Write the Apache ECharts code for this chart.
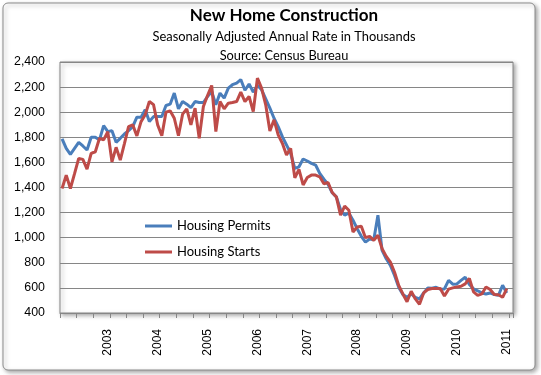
<!DOCTYPE html>
<html>
<head>
<meta charset="utf-8">
<script src="https://cdn.jsdelivr.net/npm/echarts@6/dist/echarts.min.js"></script>
<style>
html,body{margin:0;padding:0;background:#fff;}
#c{width:541px;height:375px;}
</style>
</head>
<body>
<div id="c"></div>
<script>
// Monthly categories: Feb 2002 .. Feb 2011 (last slot empty)
const startYear = 2002, startMonth = 2, monthCount = 109;
const categories = [];
for (let k = 0; k < monthCount; k++) {
  const m = (startMonth - 1 + k) % 12 + 1;
  const y = startYear + Math.floor((startMonth - 1 + k) / 12);
  categories.push(y + '-' + (m < 10 ? '0' + m : '' + m));
}

const yTicks = [400, 600, 800, 1000, 1200, 1400, 1600, 1800, 2000, 2200, 2400];

const housingPermits = [
  1787, 1712, 1664, 1712, 1760, 1731, 1699, 1800, 1800, 1779, 1893,
  1845, 1853, 1760, 1792, 1827, 1853, 1885, 1960, 1960, 2019, 1925, 1965,
  1965, 1965, 2053, 2064, 2152, 2027, 2085, 2064, 2037, 2085, 2077, 2077,
  2125, 2165, 2059, 2152, 2112, 2192, 2219, 2232, 2260, 2175, 2225, 2160,
  2215, 2180, 2107, 2032, 1952, 1885, 1805, 1739, 1672, 1552, 1565, 1627,
  1611, 1592, 1579, 1512, 1467, 1425, 1358, 1325, 1224, 1179, 1197, 1139,
  1072, 1011, 965, 989, 984, 1179, 899, 832, 779, 699, 605, 547,
  525, 552, 525, 512, 560, 600, 598, 605, 590, 592, 660, 630,
  632, 660, 685, 627, 592, 577, 560, 552, 560, 547, 541, 621,
  560, null
];

const housingStarts = [
  1392, 1499, 1392, 1510, 1632, 1624, 1547, 1672, 1685, 1792, 1779,
  1845, 1605, 1720, 1619, 1750, 1885, 1899, 1811, 1925, 1979, 2085, 2060,
  1899, 1813, 2000, 2011, 1952, 1813, 1984, 2027, 1899, 2032, 1792, 2045,
  2133, 2213, 1845, 2085, 2027, 2072, 2077, 2085, 2160, 2085, 2125, 2005,
  2272, 2192, 2059, 1851, 1939, 1819, 1752, 1659, 1712, 1477, 1545, 1420,
  1480, 1499, 1499, 1485, 1430, 1440, 1360, 1325, 1179, 1251, 1219, 1045,
  1085, 1091, 1000, 1011, 979, 1019, 912, 851, 805, 725, 619, 552,
  490, 573, 512, 470, 560, 587, 595, 595, 595, 535, 590, 600,
  608, 613, 632, 675, 568, 541, 552, 608, 587, 547, 545, 525,
  595, null
];

const chart = echarts.init(document.getElementById('c'), null, {renderer: 'canvas'});
const txtFont = 'Lato, "Open Sans", sans-serif';
chart.setOption({
  animation: false,
  backgroundColor: '#ffffff',
  graphic: [{
    type: 'rect',
    z: -10,
    silent: true,
    shape: {x: 3, y: 3, width: 532, height: 367, r: 5},
    style: {fill: '#ffffff', stroke: '#8c8c8c', lineWidth: 1,
            shadowBlur: 4, shadowOffsetX: 2, shadowOffsetY: 2, shadowColor: 'rgba(0,0,0,0.35)'}
  }],
  title: [
    {text: 'New Home Construction', left: 284, top: 5.5, textAlign: 'center', padding: 0,
     textStyle: {fontFamily: txtFont, fontWeight: 'bold', fontSize: 17, lineHeight: 21, color: '#000'}},
    {text: 'Seasonally Adjusted Annual Rate in Thousands', left: 284, top: 28.4, textAlign: 'center', padding: 0,
     textStyle: {fontFamily: txtFont, fontWeight: 'normal', fontSize: 12.9, lineHeight: 16, color: '#000'}},
    {text: 'Source: Census Bureau', left: 284, top: 47.5, textAlign: 'center', padding: 0,
     textStyle: {fontFamily: txtFont, fontWeight: 'normal', fontSize: 12.8, lineHeight: 16, color: '#000'}}
  ],
  legend: {
    orient: 'vertical',
    left: 145,
    top: 218,
    padding: 0,
    itemGap: 10,
    icon: 'rect',
    itemWidth: 27,
    itemHeight: 3,
    textStyle: {fontFamily: txtFont, fontSize: 13, color: '#000', lineHeight: 16},
    data: ['Housing Permits', 'Housing Starts']
  },
  grid: {
    left: 60, top: 62, right: 28, bottom: 62,
    show: true, backgroundColor: '#ffffff', borderColor: '#868686', borderWidth: 1,
    shadowBlur: 4, shadowOffsetX: 2, shadowOffsetY: 2, shadowColor: 'rgba(0,0,0,0.35)',
    containLabel: false
  },
  xAxis: {
    type: 'category',
    data: categories,
    boundaryGap: true,
    axisLine: {show: true, lineStyle: {color: '#868686', width: 1}},
    axisTick: {show: true, length: 5, interval: function (i) { return i % 4 === 0; },
               lineStyle: {color: '#868686'}},
    axisLabel: {
      rotate: 90,
      margin: 16,
      interval: function (i, v) { return v.slice(5) === '01'; },
      formatter: function (v) { return v.slice(0, 4); },
      fontFamily: '"Liberation Sans", Arial, sans-serif',
      fontSize: 12,
      color: '#000'
    },
    splitLine: {show: false}
  },
  yAxis: {
    type: 'value',
    min: yTicks[0],
    max: yTicks[yTicks.length - 1],
    interval: 200,
    axisLine: {show: false},
    axisTick: {show: false},
    axisLabel: {
      margin: 15,
      fontFamily: '"Liberation Sans", Arial, sans-serif',
      fontSize: 12.4,
      color: '#000',
      formatter: function (v) { return v.toLocaleString('en-US'); }
    },
    splitLine: {show: true, lineStyle: {color: '#868686', width: 1}}
  },
  series: [
    {name: 'Housing Permits', type: 'line', data: housingPermits, symbol: 'none',
     lineStyle: {color: '#4a7ebb', width: 3}, itemStyle: {color: '#4a7ebb'}, z: 3},
    {name: 'Housing Starts', type: 'line', data: housingStarts, symbol: 'none',
     lineStyle: {color: '#be4b48', width: 3}, itemStyle: {color: '#be4b48'}, z: 4}
  ]
});
</script>
</body>
</html>
